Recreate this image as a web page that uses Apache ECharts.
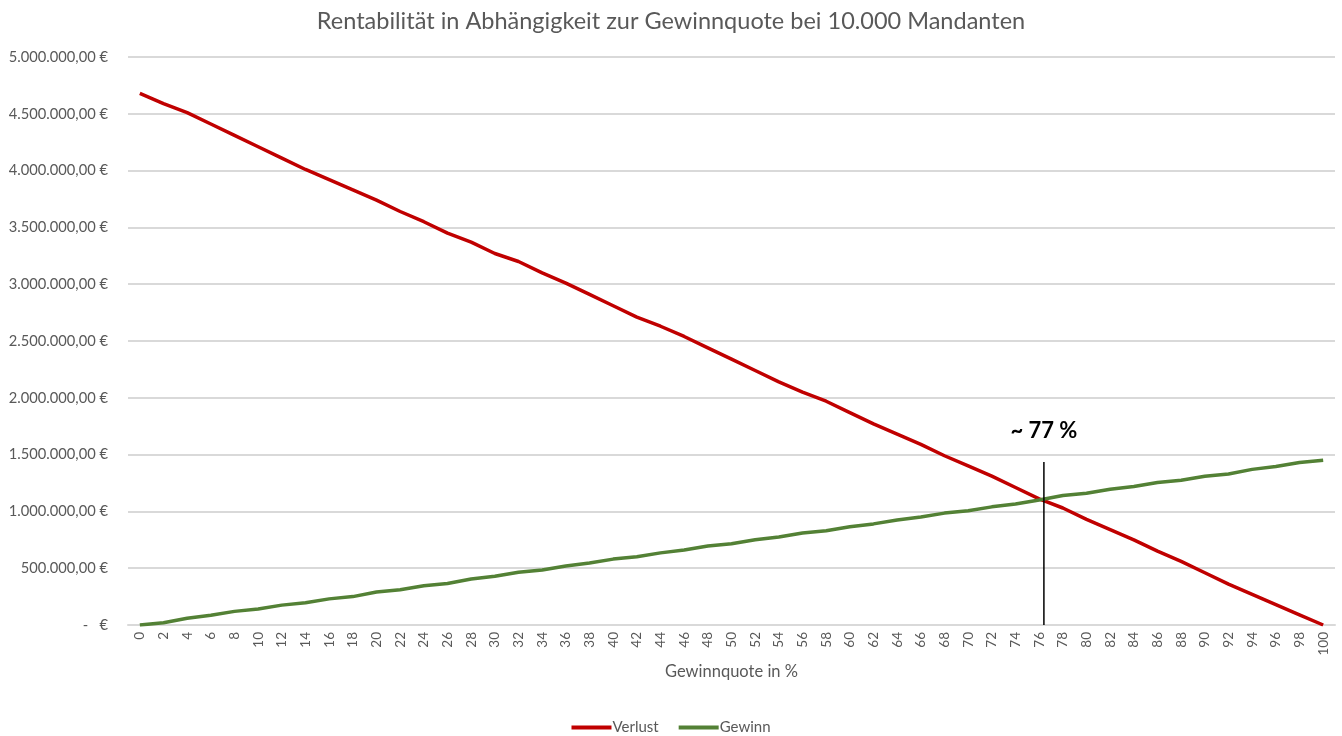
<!DOCTYPE html>
<html>
<head>
<meta charset="utf-8">
<script src="https://cdn.jsdelivr.net/npm/echarts@6/dist/echarts.min.js"></script>
<style>
html,body{margin:0;padding:0;background:#fff;}
#chart{width:1342px;height:736px;}
</style>
</head>
<body>
<div id="chart"></div>
<script>
const titleText = 'Rentabilität in Abhängigkeit zur Gewinnquote bei 10.000 Mandanten';
const xAxisName = 'Gewinnquote in %';
const categories = ['0','2','4','6','8','10','12','14','16','18','20','22','24','26','28','30','32','34','36','38','40','42','44','46','48','50','52','54','56','58','60','62','64','66','68','70','72','74','76','78','80','82','84','86','88','90','92','94','96','98','100'];
const verlust = [4680000,4590000,4510000,4410000,4310000,4210000,4110000,4010000,3920000,3830000,3740000,3640000,3550000,3450000,3370000,3270000,3200000,3100000,3010000,2910000,2810000,2710000,2630000,2540000,2440000,2340000,2240000,2140000,2050000,1970000,1870000,1770000,1680000,1590000,1490000,1400000,1310000,1210000,1110000,1030000,930000,840000,750000,650000,560000,460000,360000,270000,180000,90000,0];
const gewinn = [0,20000,60000,85000,120000,140000,175000,195000,230000,250000,290000,310000,345000,365000,405000,430000,465000,485000,520000,545000,580000,600000,635000,660000,695000,715000,750000,775000,810000,830000,865000,890000,925000,950000,985000,1005000,1040000,1065000,1100000,1140000,1160000,1195000,1220000,1255000,1275000,1310000,1330000,1370000,1395000,1430000,1450000];
const breakEvenX = 76.4;
const breakEvenTop = 1435000;
const breakEvenLabel = '~ 77 %';
const yMin = 0, yMax = 5000000, yStep = 500000;

function fmtEuro(v){
  if (v === 0) return '-   €';
  const s = Math.round(v).toString().replace(/\B(?=(\d{3})+(?!\d))/g, '.');
  return s + ',00 €';
}

const FONT = 'Lato';
const chart = echarts.init(document.getElementById('chart'), null, {renderer:'canvas'});
chart.setOption({
  animation: false,
  backgroundColor: '#ffffff',
  textStyle: {fontFamily: FONT},
  title: {
    text: titleText, left: 'center', top: 4,
    textStyle: {fontFamily: FONT, fontSize: 23.5, fontWeight: 'normal', color: '#595959'}
  },
  legend: {
    data: ['Verlust','Gewinn'], bottom: -4, left: 'center',
    icon: 'rect', itemWidth: 40, itemHeight: 4, itemGap: 20,
    textStyle: {fontFamily: FONT, fontSize: 15, color: '#595959', padding:[0,0,0,-4]}
  },
  grid: {left: 128, right: 7, top: 57, bottom: 111, containLabel: false},
  xAxis: [{
    type: 'category', data: categories, boundaryGap: true,
    name: xAxisName, nameLocation: 'middle', nameGap: 33,
    nameTextStyle: {fontFamily: FONT, fontSize: 16.5, color: '#595959'},
    axisLine: {lineStyle: {color: '#d9d9d9', width: 2}},
    axisTick: {show: false},
    axisLabel: {rotate: 90, interval: 0, fontSize: 13.5, color: '#595959', margin: 7, fontFamily: FONT}
  },{
    type: 'value', min: -1, max: 101, show: false
  }],
  yAxis: {
    type: 'value', min: yMin, max: yMax, interval: yStep,
    axisLine: {show: false}, axisTick: {show: false},
    axisLabel: {formatter: fmtEuro, fontSize: 14.7, color: '#595959', margin: 20, fontFamily: FONT},
    splitLine: {lineStyle: {color: '#d9d9d9', width: 2}}
  },
  series: [
    {name: 'Verlust', type: 'line', data: verlust, showSymbol: false, symbol: 'none',
     lineStyle: {color: '#c00000', width: 3.5}, itemStyle: {color: '#c00000'}, z: 3},
    {name: 'Gewinn', type: 'line', data: gewinn, showSymbol: false, symbol: 'none',
     lineStyle: {color: '#538135', width: 3.5}, itemStyle: {color: '#538135'}, z: 3},
    {name: 'marker', type: 'line', xAxisIndex: 1, symbol: 'circle', symbolSize: 0.1,
     lineStyle: {color: '#000000', width: 1.5}, itemStyle: {color: '#000000'}, z: 4,
     data: [
       [breakEvenX, yMin],
       {value: [breakEvenX, breakEvenTop], label: {show: true, position: 'top', distance: 20,
         formatter: breakEvenLabel, fontSize: 22, fontWeight: 'bold', color: '#000000', fontFamily: FONT}}
     ]}
  ]
});
</script>
</body>
</html>
